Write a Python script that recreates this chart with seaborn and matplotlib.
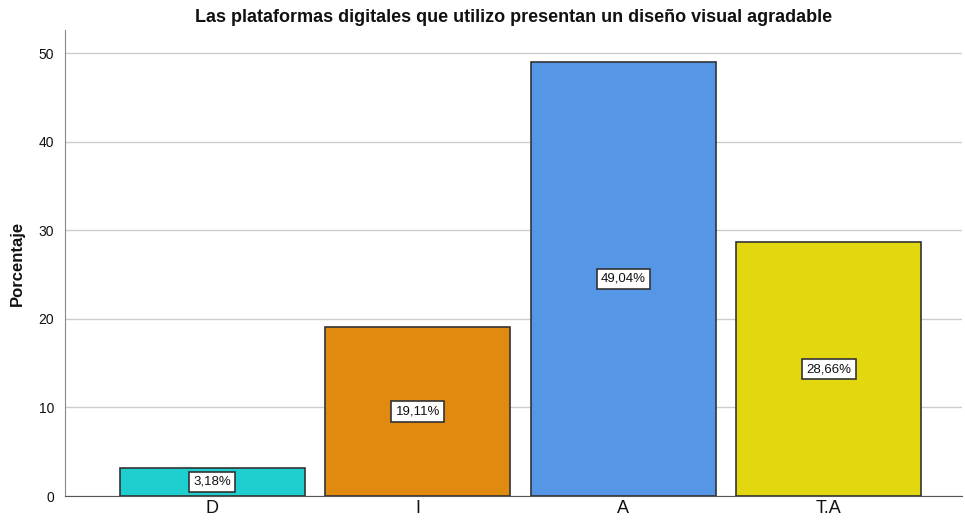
import matplotlib
matplotlib.use("Agg")
import matplotlib.pyplot as plt
import seaborn as sns
import pandas as pd

# Datos del gráfico
categorias = ["D", "I", "A", "T.A"]
porcentajes = [3.18, 19.11, 49.04, 28.66]
etiquetas = ["3,18%", "19,11%", "49,04%", "28,66%"]
colores = ["#1fcece", "#e08a10", "#5596e6", "#e3d70f"]

df = pd.DataFrame({"categoria": categorias, "porcentaje": porcentajes})

sns.set_style("white")
plt.rcParams["font.family"] = ["Liberation Sans", "DejaVu Sans"]

fig = plt.figure(figsize=(9.65, 5.27), dpi=100)
ax = fig.add_axes([0.0674, 0.0588, 0.93, 0.884])

sns.barplot(data=df, x="categoria", y="porcentaje", hue="categoria",
            palette=colores, saturation=1, width=0.9, edgecolor="#333333",
            linewidth=1.2, legend=False, ax=ax, zorder=3)

# etiquetas de porcentaje en el centro de cada barra
for i, (v, t) in enumerate(zip(porcentajes, etiquetas)):
    ax.text(i, v / 2, t, ha="center", va="center", fontsize=9.5, zorder=4,
            color="#111111",
            bbox=dict(boxstyle="square,pad=0.32", fc="white", ec="#333333", lw=1.2))

ax.set_ylim(0, 52.6)
ax.set_xlim(-0.717, 3.65)
ax.set_yticks([0, 10, 20, 30, 40, 50])
ax.yaxis.grid(True, color="#cccccc", linewidth=1, zorder=0)
ax.set_axisbelow(True)

ax.tick_params(axis="y", labelsize=10, length=0, pad=8, labelcolor="#111111")
ax.tick_params(axis="x", labelsize=13, length=0, pad=3, labelcolor="#111111")
ax.set_xlabel("")
ax.set_ylabel("Porcentaje", fontsize=12, fontweight="bold", labelpad=10,
              color="#111111")
ax.set_title("Las plataformas digitales que utilizo presentan un diseño visual agradable",
             fontsize=13, fontweight="bold", pad=6, color="#111111")

for s in ["top", "right"]:
    ax.spines[s].set_visible(False)
ax.spines["left"].set_color("#888888")
ax.spines["bottom"].set_color("#555555")

fig.savefig("out.png", dpi=100)
